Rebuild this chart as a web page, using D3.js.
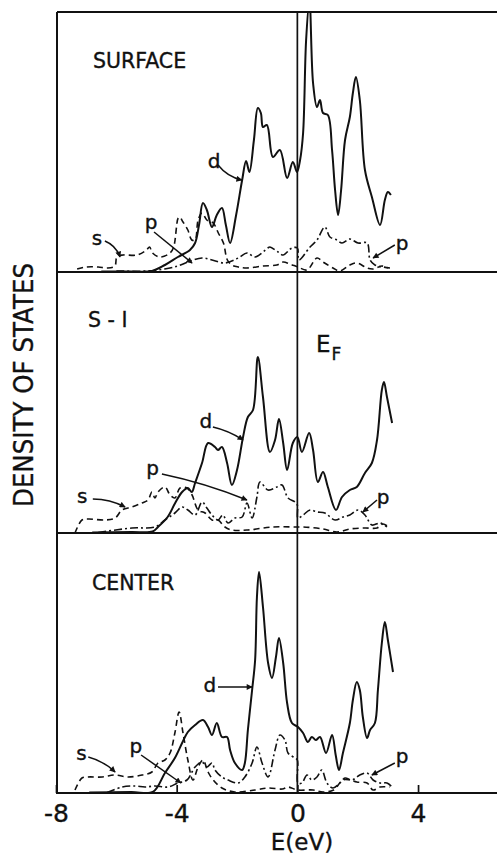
<!DOCTYPE html>
<html><head><meta charset="utf-8">
<script src="https://cdn.jsdelivr.net/npm/d3@7"></script>
<style>body{margin:0;background:#fff} text{stroke:#111;stroke-width:0.35px}</style>
</head><body>
<script>
// ---- DATA (energy E in eV, density of states in arbitrary units) ----
const xTicks = [-8, -4, 0, 4];
const xTickLabels = ["-8", "-4", "0", "4"];
const panelLabels = ["SURFACE", "S - I", "CENTER"];

const surfaceD = [[-6.5,0.5],[-5.55,0.5],[-4.82,1],[-4.39,7],[-3.96,15],[-3.56,22],[-3.39,29],[-3.26,47],[-3.13,69],[-3.0,62],[-2.83,45],[-2.67,57],[-2.5,64],[-2.37,47],[-2.23,29],[-2.03,57],[-1.83,92],[-1.7,111],[-1.59,100],[-1.44,132],[-1.31,164],[-1.21,159],[-1.14,145],[-1.01,147],[-0.81,115],[-0.58,122],[-0.34,94],[-0.15,110],[-0.01,100],[0.09,112],[0.19,139],[0.29,232],[0.4,272],[0.52,189],[0.65,165],[0.75,172],[0.85,159],[1.01,157],[1.15,122],[1.25,82],[1.35,57],[1.45,82],[1.58,132],[1.74,155],[1.84,179],[1.94,195],[2.07,172],[2.24,102],[2.47,75],[2.74,47],[2.9,72],[3.0,80],[3.1,77]];
const surfaceS = [[-7.3,3],[-7.0,5],[-6.6,5],[-6.3,4],[-6.05,6],[-5.98,15],[-5.78,17],[-5.32,17],[-5.0,22],[-4.9,25],[-4.8,19],[-4.55,15],[-4.22,19],[-4.1,25],[-3.95,54],[-3.9,55],[-3.79,50],[-3.63,42],[-3.5,32],[-3.39,32],[-3.29,52],[-3.16,59],[-3.0,52],[-2.79,49],[-2.62,39],[-2.45,29],[-2.32,12],[-2.17,7],[-1.96,5],[-1.67,4],[-1.14,6],[-0.68,7],[-0.47,10],[-0.25,8],[0.02,5],[0.32,2],[0.65,14],[0.85,10],[1.18,4],[1.41,1],[1.74,7],[1.97,9],[2.31,4],[2.51,3],[2.8,6],[3.0,4]];
const surfaceP = [[-6.0,1],[-5.0,1],[-4.4,3],[-3.96,6],[-3.63,10],[-3.16,14],[-2.83,12],[-2.4,9],[-1.96,14],[-1.67,19],[-1.4,15],[-0.98,24],[-0.91,25],[-0.64,20],[-0.47,17],[-0.18,24],[0.0,24],[0.05,12],[0.42,25],[0.65,32],[0.91,45],[1.08,35],[1.31,32],[1.48,29],[1.74,33],[2.01,29],[2.31,29],[2.41,12],[2.57,7],[2.84,5],[3.07,4]];

const s1D = [[-6.8,0.5],[-5.5,1],[-4.8,1.5],[-4.62,6],[-4.3,16],[-4.05,30],[-3.82,41],[-3.63,45],[-3.5,41],[-3.39,50],[-3.16,70],[-2.96,90],[-2.73,86],[-2.63,83],[-2.5,86],[-2.33,70],[-2.17,48],[-2.0,63],[-1.8,96],[-1.64,116],[-1.47,123],[-1.31,176],[-1.14,136],[-0.91,81],[-0.74,93],[-0.61,114],[-0.47,90],[-0.34,63],[-0.15,90],[0.0,96],[0.15,81],[0.39,100],[0.52,83],[0.68,51],[0.85,61],[1.01,46],[1.28,23],[1.48,36],[1.74,43],[1.97,46],[2.24,60],[2.47,70],[2.64,93],[2.8,143],[2.87,151],[2.97,136],[3.14,110]];
const s1S = [[-7.37,0],[-7.14,13],[-6.93,14],[-6.37,13],[-6.04,15],[-5.81,23],[-5.48,26],[-5.15,30],[-4.95,33],[-4.82,41],[-4.72,35],[-4.62,41],[-4.39,46],[-4.22,38],[-4.06,35],[-3.89,45],[-3.66,45],[-3.49,38],[-3.29,23],[-3.06,20],[-2.83,13],[-2.63,13],[-2.4,6],[-2.17,3],[-1.64,3],[-0.84,6],[-0.08,6],[0.2,6],[0.85,4],[1.31,1],[1.74,4],[2.24,5],[2.64,5],[2.84,9],[3.07,5]];
const s1P = [[-6.6,0.5],[-5.48,5],[-4.72,6],[-4.39,13],[-4.06,20],[-3.82,26],[-3.63,23],[-3.39,18],[-3.16,31],[-3.0,25],[-2.83,18],[-2.63,13],[-2.47,18],[-2.3,10],[-2.07,15],[-1.83,16],[-1.67,30],[-1.5,15],[-1.34,36],[-1.24,51],[-0.97,43],[-0.68,46],[-0.51,48],[-0.31,35],[-0.08,31],[0.0,28],[0.02,15],[0.19,18],[0.42,23],[0.65,21],[0.91,20],[1.25,13],[1.51,16],[1.74,18],[2.01,23],[2.24,18],[2.47,8],[2.74,10],[2.97,6]];

const centerD = [[-6.9,0.5],[-5.5,1],[-4.79,1],[-4.39,20],[-4.06,35],[-3.82,50],[-3.63,61],[-3.39,68],[-3.13,73],[-2.96,66],[-2.83,58],[-2.67,70],[-2.5,56],[-2.33,56],[-2.23,43],[-2.07,30],[-1.83,23],[-1.74,30],[-1.64,63],[-1.5,103],[-1.4,133],[-1.34,196],[-1.27,221],[-1.14,186],[-0.97,130],[-0.84,115],[-0.71,136],[-0.61,155],[-0.47,130],[-0.34,90],[-0.18,70],[0.02,66],[0.19,60],[0.35,51],[0.48,56],[0.61,53],[0.75,56],[0.95,40],[1.15,58],[1.27,38],[1.38,23],[1.51,40],[1.74,70],[1.84,93],[1.97,111],[2.07,103],[2.17,76],[2.31,55],[2.41,63],[2.57,70],[2.67,103],[2.8,150],[2.9,171],[3.0,153],[3.17,121]];
const centerS = [[-7.37,3],[-7.14,15],[-6.94,16],[-6.47,16],[-6.04,18],[-5.61,16],[-5.15,18],[-4.82,21],[-4.62,30],[-4.39,33],[-4.22,40],[-4.06,60],[-3.92,81],[-3.79,60],[-3.63,33],[-3.46,13],[-3.29,26],[-3.13,33],[-2.96,21],[-2.79,13],[-2.5,5],[-2.07,1],[-1.4,3],[-0.97,5],[-0.5,4],[-0.31,6],[0.0,3],[0.52,3],[0.85,1],[1.2,3],[1.51,13],[1.74,13],[1.97,11],[2.31,10],[2.51,3],[2.74,6],[3.07,6]];
const centerP = [[-6.3,0.5],[-5.81,6],[-5.38,7],[-5.05,6],[-4.72,7],[-4.29,6],[-3.96,10],[-3.66,13],[-3.39,26],[-3.16,31],[-3.0,26],[-2.83,30],[-2.73,23],[-2.5,16],[-2.3,13],[-1.96,10],[-1.74,16],[-1.5,30],[-1.34,46],[-1.17,30],[-0.97,16],[-0.74,43],[-0.58,58],[-0.41,53],[-0.31,40],[-0.08,35],[0.0,33],[0.02,10],[0.15,10],[0.32,18],[0.48,13],[0.65,16],[0.81,23],[0.98,10],[1.18,5],[1.41,10],[1.58,15],[1.81,13],[2.07,18],[2.31,20],[2.51,13],[2.74,10],[2.97,10],[3.14,6]];

// annotations: [text, labelE, labelDOS, fromE, fromDOS, toE, toDOS, bend]
const surfaceNotes = [["d",-2.76,104,-2.63,107,-1.84,92,5],["p",-4.85,43,-4.75,40,-3.49,9,0],["s",-6.64,27,-6.38,31,-5.88,15,-5],["p",3.47,22,3.23,27,2.51,14,0]];
const s1Notes = [["d",-3.03,105,-2.8,106,-1.8,93,-3],["p",-4.8,58,-4.49,59,-1.67,33,-4],["s",-7.13,30,-6.78,34,-5.71,26,-4],["p",2.84,29,2.64,33,2.17,21,0]];
const centerNotes = [["d",-2.9,101,-2.63,106,-1.5,106,0],["p",-5.35,40,-5.18,38,-3.86,10,0],["s",-7.16,33,-6.93,36,-6.04,21,-4],["p",3.47,30,3.23,30,2.47,18,0]];

// ---- LAYOUT ----
const W = 497, H = 858;
const frameLeft = 57, frameRight = 497, frameTop = 12;
const panelH = 260;
const bases = [272, 533, 793];
const font = "'DejaVu Sans', 'Liberation Sans', Arial, sans-serif";

const svg = d3.select("body").append("svg").attr("width", W).attr("height", H);
const defs = svg.append("defs");
defs.append("marker").attr("id", "ah").attr("viewBox", "0 0 10 10")
  .attr("refX", 9).attr("refY", 5).attr("markerWidth", 8).attr("markerHeight", 6)
  .attr("markerUnits", "userSpaceOnUse").attr("orient", "auto")
  .append("path").attr("d", "M0,0L10,5L0,10Z").attr("fill", "#111");
defs.append("clipPath").attr("id", "clip").append("rect")
  .attr("x", frameLeft).attr("y", frameTop).attr("width", frameRight - frameLeft).attr("height", bases[2] - frameTop);

const x = d3.scaleLinear().domain([-8, 6.65]).range([56, 498]);

const panels = [
  {label: panelLabels[0], base: bases[0], d: surfaceD, s: surfaceS, p: surfaceP, notes: surfaceNotes, lx: 93, ly: 68},
  {label: panelLabels[1], base: bases[1], d: s1D, s: s1S, p: s1P, notes: s1Notes, lx: 88, ly: 327},
  {label: panelLabels[2], base: bases[2], d: centerD, s: centerS, p: centerP, notes: centerNotes, lx: 92, ly: 590}
];

const ink = "#111";
const gData = svg.append("g").attr("clip-path", "url(#clip)");

panels.forEach(P => {
  const y = d3.scaleLinear().domain([0, panelH]).range([P.base, P.base - panelH]);
  const line = d3.line().x(d => x(d[0])).y(d => y(d[1])).curve(d3.curveCatmullRom.alpha(0.5));
  gData.append("path").attr("d", line(P.s)).attr("fill", "none").attr("stroke", ink)
    .attr("stroke-width", 1.6).attr("stroke-dasharray", "6,4");
  gData.append("path").attr("d", line(P.p)).attr("fill", "none").attr("stroke", ink)
    .attr("stroke-width", 1.6).attr("stroke-dasharray", "8,3,2,3");
  gData.append("path").attr("d", line(P.d)).attr("fill", "none").attr("stroke", ink)
    .attr("stroke-width", 2);

  svg.append("text").attr("x", P.lx).attr("y", P.ly).text(P.label)
    .attr("font-family", font).attr("font-size", 20.5).attr("fill", ink);

  P.notes.forEach(n => {
    svg.append("text").attr("x", x(n[1])).attr("y", y(n[2])).text(n[0])
      .attr("text-anchor", "middle").attr("font-family", font).attr("font-size", 20).attr("fill", ink);
    const x1 = x(n[3]), y1 = y(n[4]), x2 = x(n[5]), y2 = y(n[6]);
    const dx = x2 - x1, dy = y2 - y1, len = Math.hypot(dx, dy);
    const cx = (x1 + x2) / 2 + (-dy / len) * n[7], cy = (y1 + y2) / 2 + (dx / len) * n[7];
    const pth = d3.path(); pth.moveTo(x1, y1); pth.quadraticCurveTo(cx, cy, x2, y2);
    svg.append("path").attr("d", pth.toString()).attr("fill", "none").attr("stroke", ink)
      .attr("stroke-width", 1.5).attr("marker-end", "url(#ah)");
  });
});

// frame
const frame = svg.append("g").attr("stroke", ink).attr("stroke-width", 2).attr("fill", "none");
frame.append("line").attr("x1", frameLeft).attr("x2", frameLeft).attr("y1", frameTop).attr("y2", bases[2] + 1);
frame.append("line").attr("x1", frameLeft).attr("x2", frameRight).attr("y1", frameTop).attr("y2", frameTop);
bases.forEach(b => frame.append("line").attr("x1", frameLeft).attr("x2", frameRight).attr("y1", b).attr("y2", b));
// Fermi level
svg.append("line").attr("x1", x(0)).attr("x2", x(0)).attr("y1", frameTop).attr("y2", bases[2])
  .attr("stroke", ink).attr("stroke-width", 1.7);

// x axis (inward ticks)
const axis = d3.axisBottom(x).tickValues(xTicks).tickSize(0).tickFormat((d, i) => xTickLabels[i]);
const gAxis = svg.append("g").attr("transform", `translate(0,${bases[2]})`).call(axis);
gAxis.select(".domain").remove();
gAxis.selectAll(".tick text").attr("y", 29).attr("dy", 0)
  .attr("font-family", font).attr("font-size", 25).attr("fill", ink);
gAxis.selectAll(".tick").append("line").attr("y1", 0).attr("y2", -8)
  .attr("stroke", ink).attr("stroke-width", 1.7);

svg.append("text").attr("x", 302).attr("y", 850).text("E(eV)")
  .attr("text-anchor", "middle").attr("font-family", font).attr("font-size", 23).attr("fill", ink);

svg.append("text").attr("transform", "translate(33,385) rotate(-90)")
  .attr("text-anchor", "middle").attr("font-family", font).attr("font-size", 26)
  .attr("textLength", 244).attr("lengthAdjust", "spacingAndGlyphs").attr("fill", ink)
  .text("DENSITY OF STATES");

// E_F label
const ef = svg.append("text").attr("x", 316).attr("y", 352).attr("font-family", font).attr("fill", ink);
ef.append("tspan").attr("font-size", 23).text("E");
ef.append("tspan").attr("font-size", 17).attr("dy", 8).attr("dx", 1).text("F");
</script>
</body></html>
